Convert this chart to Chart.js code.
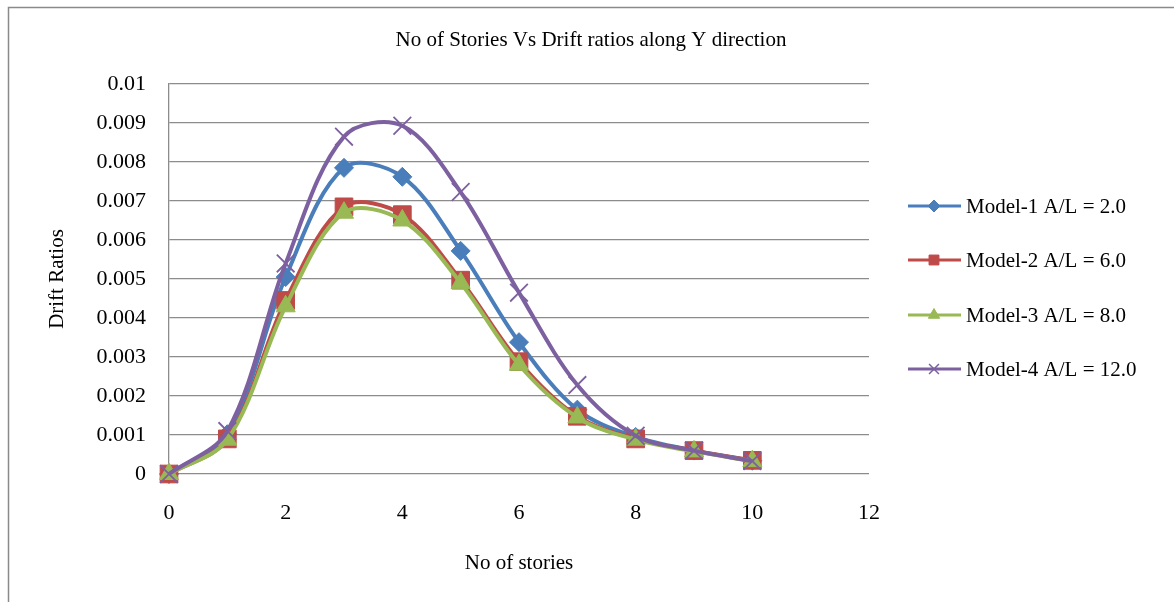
<!DOCTYPE html>
<html>
<head>
<meta charset="utf-8">
<script src="https://cdn.jsdelivr.net/npm/chart.js@4/dist/chart.umd.min.js"></script>
<style>
  html, body { margin: 0; padding: 0; background: #fff; }
  #wrap { position: relative; width: 1174px; height: 602px; }
</style>
</head>
<body>
<div id="wrap"><canvas id="c" width="1174" height="602"></canvas></div>
<script>
const chartTitle = "No of Stories Vs Drift ratios along Y direction";
const xTitle = "No of stories";
const yTitle = "Drift Ratios";
const stories = [0, 1, 2, 3, 4, 5, 6, 7, 8, 9, 10];
const seriesNames = ["Model-1 A/L = 2.0", "Model-2 A/L = 6.0", "Model-3 A/L = 8.0", "Model-4 A/L = 12.0"];
const model1 = [0, 0.00102, 0.00505, 0.00785, 0.00762, 0.00572, 0.00338, 0.00165, 0.00095, 0.0006, 0.00034];
const model2 = [0, 0.0009, 0.00445, 0.00685, 0.00665, 0.00497, 0.00288, 0.00148, 0.0009, 0.0006, 0.00035];
const model3 = [0, 0.00088, 0.0043, 0.0067, 0.0065, 0.0049, 0.0028, 0.00145, 0.00088, 0.00058, 0.00033];
const model4 = [0, 0.0011, 0.0054, 0.00865, 0.00893, 0.00723, 0.00465, 0.00228, 0.00098, 0.0006, 0.00033];
const yTicks = [0, 0.001, 0.002, 0.003, 0.004, 0.005, 0.006, 0.007, 0.008, 0.009, 0.01];

const colors = ["#4A7EBB", "#BE4B48", "#98B954", "#7D60A0"];
const styles = ["rectRot", "rect", "triangle", "crossRot"];
const radii = [9.5, 12.5, 11, 12.5];
const legendRadii = [6, 7, 6.5, 7];
const allData = [model1, model2, model3, model4];

const FONT = "'Liberation Serif', 'Times New Roman', serif";

const datasets = allData.map((vals, i) => ({
  label: seriesNames[i],
  data: stories.map((s, k) => ({x: s, y: vals[k]})),
  borderColor: colors[i],
  backgroundColor: colors[i],
  borderWidth: 4,
  pointStyle: styles[i],
  pointRadius: radii[i],
  pointBorderWidth: i === 3 ? 1.8 : 1,
  pointBorderColor: colors[i],
  pointBackgroundColor: colors[i],
  tension: 0.34,
  clip: false,
  order: 4 - i
}));

const decor = {
  id: 'decor',
  afterDraw(chart) {
    const ctx = chart.ctx;
    ctx.save();
    // frame
    ctx.strokeStyle = '#8a8a8a';
    ctx.lineWidth = 1.5;
    ctx.beginPath();
    ctx.moveTo(1174, 7.5);
    ctx.lineTo(8.5, 7.5);
    ctx.lineTo(8.5, 602);
    ctx.stroke();
    // title
    ctx.fillStyle = '#000';
    ctx.font = '21px ' + FONT;
    ctx.textAlign = 'center';
    ctx.textBaseline = 'middle';
    ctx.fillText(chartTitle, 591, 40);
    // legend
    ctx.textAlign = 'left';
    ctx.font = '21px ' + FONT;
    const ys = [206, 260, 315, 369];
    for (let i = 0; i < 4; i++) {
      const y = ys[i];
      ctx.strokeStyle = colors[i];
      ctx.lineWidth = 3;
      ctx.beginPath();
      ctx.moveTo(908, y);
      ctx.lineTo(961, y);
      ctx.stroke();
      ctx.fillStyle = colors[i];
      ctx.strokeStyle = colors[i];
      ctx.lineWidth = i === 3 ? 1.5 : 1;
      Chart.helpers.drawPoint(ctx, {pointStyle: styles[i], radius: legendRadii[i], rotation: 0, borderWidth: ctx.lineWidth}, 934, y);
      ctx.fillStyle = '#000';
      ctx.fillText(seriesNames[i], 966, y + 1);
    }
    ctx.restore();
  }
};

new Chart(document.getElementById('c'), {
  type: 'line',
  data: { datasets },
  options: {
    responsive: false,
    animation: false,
    events: [],
    layout: { padding: { left: 40, right: 305, top: 84, bottom: 20 } },
    plugins: { legend: { display: false }, title: { display: false }, tooltip: { enabled: false } },
    scales: {
      x: {
        type: 'linear',
        min: 0, max: 12,
        afterFit(scale) { scale.height = 602 - 20 - 474; },
        ticks: { stepSize: 2, color: '#000', font: { family: FONT, size: 22 }, padding: 26, maxRotation: 0 },
        grid: { display: false, drawTicks: false },
        border: { display: false },
        title: { display: true, text: xTitle, color: '#000', font: { family: FONT, size: 21 }, padding: { top: 0, bottom: 6 } }
      },
      y: {
        type: 'linear',
        min: 0, max: 0.01,
        afterFit(scale) { scale.width = 169 - 40; },
        afterBuildTicks(scale) { scale.ticks = yTicks.map(v => ({ value: v })); },
        ticks: {
          color: '#000', font: { family: FONT, size: 22 }, padding: 23,
          callback: v => String(+(+v).toFixed(3))
        },
        grid: { color: '#8c8c8c', lineWidth: 1.3, drawTicks: false },
        border: { display: true, color: '#8c8c8c', width: 1.3 },
        title: { display: true, text: yTitle, color: '#000', font: { family: FONT, size: 21 }, padding: { top: 5, bottom: 0 } }
      }
    }
  },
  plugins: [decor]
});
</script>
</body>
</html>
